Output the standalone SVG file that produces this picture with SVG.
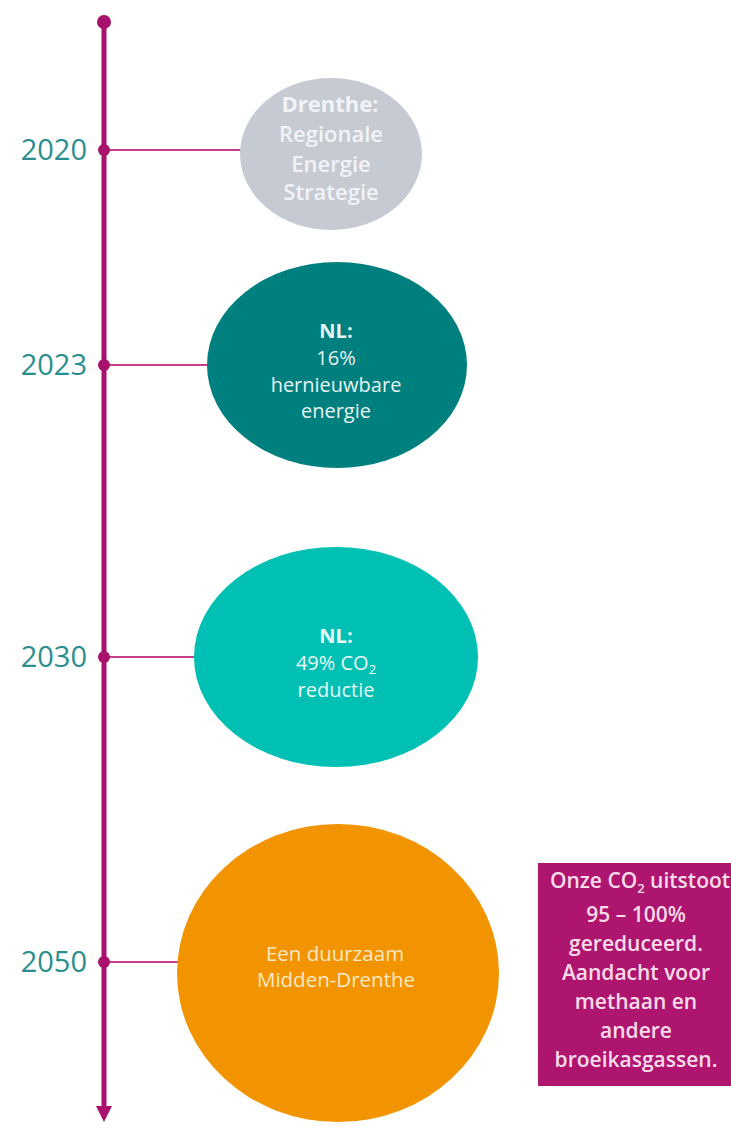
<svg xmlns="http://www.w3.org/2000/svg" width="731" height="1126" viewBox="0 0 731 1126">
<defs>
<style>
.yr{font-family:"Open Sans","Liberation Sans",sans-serif;font-size:29px;fill:#2b8e8e;text-anchor:end}
.t{font-family:"Open Sans","Liberation Sans",sans-serif;text-anchor:middle}
.b{font-weight:bold}
.conn{stroke:#c53f8b;stroke-width:2;fill:none}
.axis{stroke:#a8126c;stroke-width:5;fill:none}
.dot{fill:#a8126c}
</style>
</defs>
<rect width="731" height="1126" fill="#fff"/>
<g id="connectors">
<line class="axis" x1="104" y1="22" x2="104" y2="1108"/>
<path d="M96,1106 L112,1106 L104,1122 Z" fill="#a8126c"/>
<circle class="dot" cx="104" cy="22" r="7"/>
<line class="conn" x1="104" y1="150" x2="242" y2="150"/>
<line class="conn" x1="104" y1="365" x2="209" y2="365"/>
<line class="conn" x1="104" y1="657" x2="196" y2="657"/>
<line class="conn" x1="104" y1="962" x2="180" y2="962"/>
<circle class="dot" cx="104" cy="150" r="6"/>
<circle class="dot" cx="104" cy="365" r="6"/>
<circle class="dot" cx="104" cy="657" r="6"/>
<circle class="dot" cx="104" cy="962" r="6"/>
</g>
<g id="year2020"><text class="yr" x="87" y="160">2020</text></g>
<g id="year2023"><text class="yr" x="87" y="375">2023</text></g>
<g id="year2030"><text class="yr" x="87" y="667">2030</text></g>
<g id="year2050"><text class="yr" x="87" y="972">2050</text></g>
<g id="node2020">
<ellipse cx="331" cy="154" rx="91" ry="76" fill="#c6cbd3"/>
<text class="t" x="331" y="112" font-size="22" font-weight="600" fill="#f2f3f6"><tspan class="b" x="330">Drenthe:</tspan><tspan x="331" dy="30">Regionale</tspan><tspan x="331" dy="30">Energie</tspan><tspan x="331" dy="28">Strategie</tspan></text>
</g>
<g id="node2023">
<ellipse cx="337" cy="365" rx="130" ry="103" fill="#007f7f"/>
<text class="t" x="336" y="338" font-size="20" fill="#e6f3f2"><tspan class="b" x="336">NL:</tspan><tspan x="336" dy="27">16%</tspan><tspan x="336" dy="27">hernieuwbare</tspan><tspan x="336" dy="26">energie</tspan></text>
</g>
<g id="node2030">
<ellipse cx="336" cy="657" rx="142" ry="110" fill="#00c0b4"/>
<text class="t" x="336" y="643" font-size="20" fill="#e8f9f7"><tspan class="b" x="336">NL:</tspan><tspan x="336" dy="27">49% CO<tspan font-size="13" dy="4">2</tspan></tspan><tspan x="336" dy="23">reductie</tspan></text>
</g>
<g id="node2050">
<ellipse cx="338" cy="973" rx="161" ry="149" fill="#f29400"/>
<text class="t" x="336" y="961" font-size="20.5" fill="#fde8c4"><tspan x="335">Een duurzaam</tspan><tspan x="336" dy="26">Midden-Drenthe</tspan></text>
</g>
<g id="note2050">
<rect x="538" y="863" width="200" height="223" fill="#ae156f"/>
<text class="t" x="636" y="888" font-size="21" font-weight="600" fill="#f8dcea"><tspan x="640">Onze CO<tspan font-size="13" dy="5">2</tspan><tspan dy="-5"> uitstoot</tspan></tspan><tspan x="636" dy="34">95 – 100%</tspan><tspan x="636" dy="29">gereduceerd.</tspan><tspan x="636" dy="29">Aandacht voor</tspan><tspan x="636" dy="29">methaan en</tspan><tspan x="636" dy="29">andere</tspan><tspan x="636" dy="29">broeikasgassen.</tspan></text>
</g>
</svg>
